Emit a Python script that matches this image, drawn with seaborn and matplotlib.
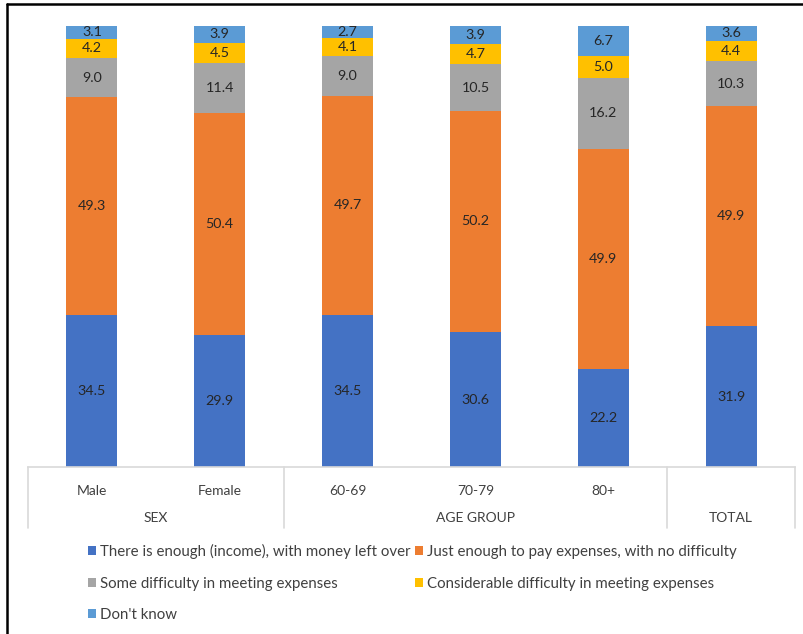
import matplotlib
matplotlib.use("Agg")
import matplotlib.pyplot as plt
import seaborn as sns
import pandas as pd
import numpy as np
from matplotlib.patches import Patch
from matplotlib.lines import Line2D
import matplotlib.transforms as mtransforms

categories = ["Male", "Female", "60-69", "70-79", "80+", ""]
groups = ["SEX", "AGE GROUP", "TOTAL"]
group_spans = [(0, 1), (2, 4), (5, 5)]
series_names = [
    "There is enough (income), with money left over",
    "Just enough to pay expenses, with no difficulty",
    "Some difficulty in meeting expenses",
    "Considerable difficulty in meeting expenses",
    "Don't know",
]
enough = [34.5, 29.9, 34.5, 30.6, 22.2, 31.9]
just_enough = [49.3, 50.4, 49.7, 50.2, 49.9, 49.9]
some_diff = [9.0, 11.4, 9.0, 10.5, 16.2, 10.3]
consid_diff = [4.2, 4.5, 4.1, 4.7, 5.0, 4.4]
dont_know = [3.1, 3.9, 2.7, 3.9, 6.7, 3.6]
colors = ["#4472C4", "#ED7D31", "#A5A5A5", "#FFC000", "#5B9BD5"]

sns.set_theme(style="white")
plt.rcParams["font.family"] = ["Lato", "DejaVu Sans"]

series = [enough, just_enough, some_diff, consid_diff, dont_know]
vals = np.array(series)
cum = np.cumsum(vals, axis=0)

W, H = 804, 634
fig = plt.figure(figsize=(W / 100, H / 100), dpi=100)
x0, x1 = 28, 795
y_bot, y_top = 467, 26
ax = fig.add_axes([x0 / W, (H - y_bot) / H, (x1 - x0) / W, (y_bot - y_top) / H])

xlabels = [f"c{i}" for i in range(len(categories))]
for k in range(len(series) - 1, -1, -1):
    df = pd.DataFrame({"cat": xlabels, "val": cum[k]})
    sns.barplot(data=df, x="cat", y="val", order=xlabels, color=colors[k],
                saturation=1, width=0.4, errorbar=None, ax=ax, zorder=2,
                edgecolor="none", linewidth=0)

for k in range(len(series)):
    for i in range(len(categories)):
        mid = cum[k, i] - vals[k, i] / 2
        ax.text(i, mid, f"{vals[k, i]:.1f}", ha="center", va="center",
                fontsize=10.3, color="#262626", zorder=5)

ax.set_xlim(-0.5, len(categories) - 0.5)
ax.set_ylim(0, 100)
ax.set_yticks([])
ax.set_ylabel("")
ax.set_xlabel("")
ax.set_xticks(range(len(categories)))
ax.set_xticklabels(categories, fontsize=10, color="#404040")
ax.tick_params(axis="x", length=0, pad=13)
for s in ["top", "right", "left"]:
    ax.spines[s].set_visible(False)
ax.spines["bottom"].set_color("#D9D9D9")
ax.spines["bottom"].set_linewidth(1.2)

trans = mtransforms.blended_transform_factory(ax.transData, ax.transAxes)
ax_h = y_bot - y_top
ylow = -(528 - y_bot) / ax_h
for xs in [-0.5, 1.5, 4.5, 5.5]:
    ax.add_line(Line2D([xs, xs], [0, ylow], transform=trans, color="#D9D9D9",
                       lw=1.2, clip_on=False))
ygroup = -(518 - y_bot) / ax_h
for g, (a, b) in zip(groups, group_spans):
    ax.text((a + b) / 2, ygroup, g, transform=trans, ha="center", va="center",
            fontsize=10, color="#404040")

handles = [Patch(facecolor=c, edgecolor="none") for c in colors]
order = [0, 2, 4, 1, 3]
fig.legend([handles[i] for i in order], [series_names[i] for i in order],
           ncol=2, loc="upper left", bbox_to_anchor=(88 / W, 1 - 544 / H),
           frameon=False, fontsize=10.8, handlelength=0.55, handleheight=0.55,
           handletextpad=0.25, columnspacing=0.3, labelspacing=1.17,
           labelcolor="#404040", borderaxespad=0, borderpad=0)

fig.add_artist(Line2D([7 / W, 1], [1 - 4 / H, 1 - 4 / H], transform=fig.transFigure,
                      color="black", lw=1.8))
fig.add_artist(Line2D([7 / W, 7 / W], [0, 1 - 4 / H], transform=fig.transFigure,
                      color="black", lw=1.8))

fig.savefig("out.png", dpi=100)
